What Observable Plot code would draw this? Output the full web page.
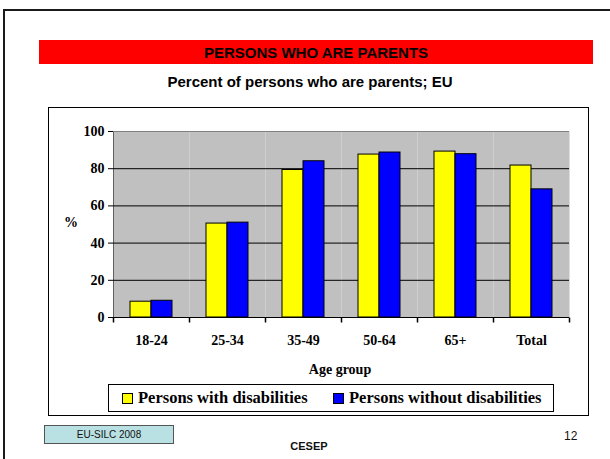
<!DOCTYPE html>
<html>
<head>
<meta charset="utf-8">
<script src="https://cdn.jsdelivr.net/npm/d3@7"></script>
<script src="https://cdn.jsdelivr.net/npm/@observablehq/plot@0.6"></script>
<style>
  html, body { margin: 0; padding: 0; background: #fff; }
  body { width: 610px; height: 459px; position: relative; overflow: hidden; }
  .abs { position: absolute; }
  .sans { font-family: "Liberation Sans", Arial, sans-serif; }
  .serif { font-family: "Liberation Serif", "Times New Roman", serif; font-weight: bold; }
  #frame { left: 3px; top: 9px; width: 607px; height: 450px; border-left: 2px solid #1a1a1a; border-top: 2px solid #1a1a1a; box-sizing: border-box; }
  #banner { left: 39px; top: 40px; width: 554px; height: 24px; background: #ff0000; display: flex; align-items: center; justify-content: center; font-weight: bold; font-size: 15px; color: #000; }
  #subtitle { left: 110px; width: 400px; top: 73px; text-align: center; font-weight: bold; font-size: 15px; color: #000; }
  #chartbox { left: 48px; top: 107px; width: 541px; height: 309px; border: 1px solid #000; box-sizing: border-box; background: #fff; }
  #chart { left: 48px; top: 107px; }
  #pct { left: 64px; top: 215px; font-size: 14px; }
  #agegroup { left: 240px; width: 200px; top: 362px; text-align: center; font-size: 14px; }
  #legend { left: 108px; top: 384px; width: 446px; height: 28px; border: 1px solid #000; box-sizing: border-box; background: #fff; font-size: 16.5px; }
  .item { position: absolute; top: 3px; display: flex; align-items: center; white-space: nowrap; }
  .sw { width: 9px; height: 9px; border: 1px solid #000; margin-right: 5px; }
  #src { left: 44px; top: 425px; width: 130px; height: 19px; background: #b9e0e3; border: 1px solid #555; box-sizing: border-box; font-size: 10px; display: flex; align-items: center; justify-content: center; color: #111; }
  #cesep { left: 259px; width: 100px; top: 440px; text-align: center; font-weight: bold; font-size: 11px; color: #111; }
  #page { left: 564px; top: 429px; font-size: 12px; color: #111; }
</style>
</head>
<body>
<div id="frame" class="abs"></div>
<div id="banner" class="abs sans">PERSONS WHO ARE PARENTS</div>
<div id="subtitle" class="abs sans">Percent of persons who are parents; EU</div>
<div id="chartbox" class="abs"></div>
<div id="chart" class="abs"></div>
<div id="pct" class="abs serif">%</div>
<div id="agegroup" class="abs serif">Age group</div>
<div id="legend" class="abs serif"></div>
<div id="src" class="abs sans">EU-SILC 2008</div>
<div id="cesep" class="abs sans">CESEP</div>
<div id="page" class="abs sans">12</div>
<script>
const ageGroups = ["18-24", "25-34", "35-49", "50-64", "65+", "Total"];
const withDisabilities = [8.5, 50.5, 79.3, 87.6, 89.2, 81.7];
const withoutDisabilities = [9.0, 51.0, 84.0, 88.7, 87.8, 68.9];
const seriesNames = ["Persons with disabilities", "Persons without disabilities"];
const seriesColors = ["#ffff00", "#0000ff"];
const yTicks = [0, 20, 40, 60, 80, 100];

const rows = [];
ageGroups.forEach((g, i) => {
  rows.push({age: g, series: seriesNames[0], value: withDisabilities[i]});
  rows.push({age: g, series: seriesNames[1], value: withoutDisabilities[i]});
});

const tickSymbol = {draw(context) { context.moveTo(0, 0); context.lineTo(0, 5); }};

const chart = Plot.plot({
  width: 540,
  height: 250,
  marginLeft: 65,
  marginRight: 19,
  marginTop: 24,
  marginBottom: 40,
  style: {
    fontFamily: "'Liberation Serif', 'Times New Roman', serif",
    fontSize: "14px",
    fontWeight: "bold",
    color: "#000",
    background: "transparent",
    overflow: "visible"
  },
  fx: {domain: ageGroups, padding: 0, tickSize: 0, tickPadding: 18, label: null},
  x: {domain: seriesNames, paddingInner: 0, paddingOuter: 0.75, axis: null},
  y: {domain: [0, 100], ticks: yTicks, tickSize: 5, tickPadding: 4, line: true, label: null},
  color: {domain: seriesNames, range: seriesColors},
  marks: [
    Plot.frame({fill: "#c0c0c0"}),
    Plot.ruleY([20, 40, 60, 80], {stroke: "#000"}),
    Plot.ruleY([100], {stroke: "#808080"}),
    Plot.barY(rows, {fx: "age", x: "series", y: "value", fill: "series", stroke: "#000", strokeWidth: 1}),
    Plot.ruleY([0], {stroke: "#000"}),
    Plot.dot(ageGroups, {fx: d => d, frameAnchor: "bottom-left", symbol: tickSymbol, fill: "none", stroke: "#000"}),
    Plot.dot(ageGroups.slice(-1), {fx: d => d, frameAnchor: "bottom-right", symbol: tickSymbol, fill: "none", stroke: "#000"})
  ]
});
document.getElementById("chart").appendChild(chart);

const legend = document.getElementById("legend");
const itemLefts = [13, 224];
seriesNames.forEach((name, i) => {
  const item = document.createElement("div");
  item.className = "item";
  item.style.left = itemLefts[i] + "px";
  const sw = document.createElement("div");
  sw.className = "sw";
  sw.style.background = seriesColors[i];
  const label = document.createElement("span");
  label.textContent = name;
  item.appendChild(sw);
  item.appendChild(label);
  legend.appendChild(item);
});
</script>
</body>
</html>
